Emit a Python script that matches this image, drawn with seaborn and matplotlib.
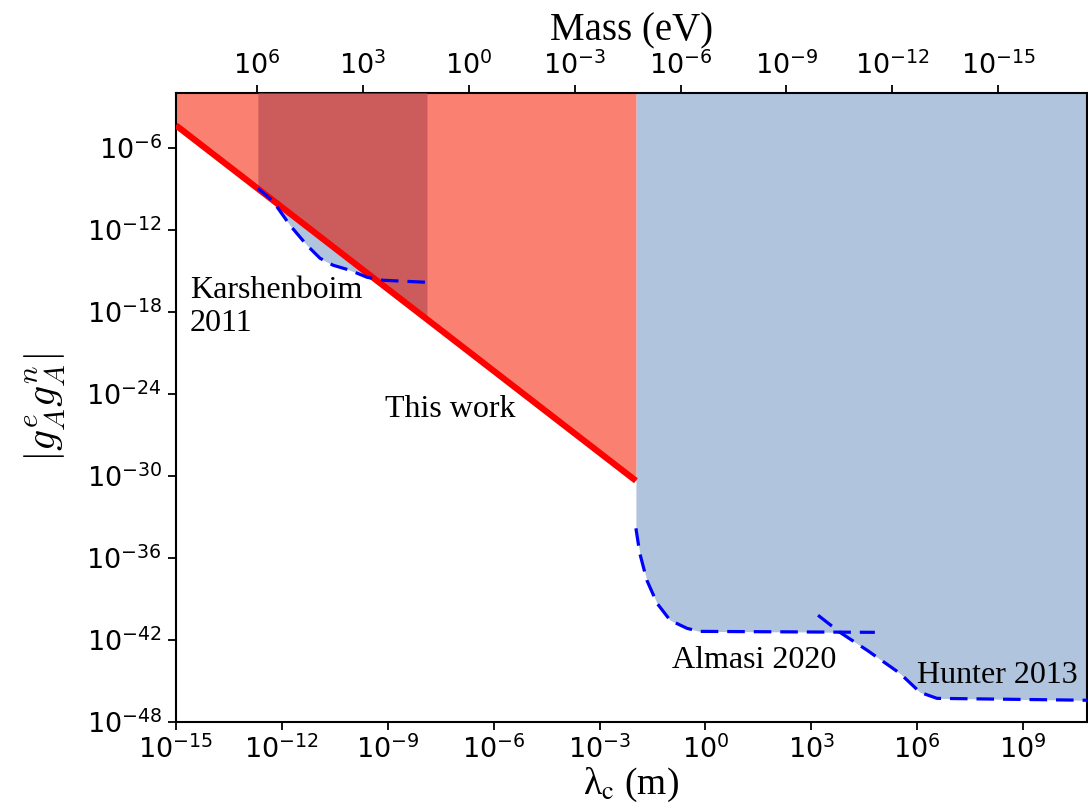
import numpy as np
import pandas as pd
import matplotlib
matplotlib.use("Agg")
import matplotlib.pyplot as plt
from matplotlib.ticker import FixedLocator, NullLocator, LogFormatterSciNotation
import seaborn as sns

# ---------------- data ----------------
# "This work" limit line (log10 lambda [m], log10 |g g|)
this_work_loglam = [-15.0, -1.97]
this_work_logg = [-4.35, -30.35]

# Karshenboim 2011 (dashed)
karsh_loglam = [-12.68, -12.25, -11.77, -11.29, -10.92, -10.55, -10.07, -9.59, -9.14, -7.89]
karsh_logg = [-8.95, -9.90, -11.66, -13.12, -14.07, -14.58, -14.95, -15.46, -15.68, -15.83]

# Almasi 2020 (dashed)
almasi_loglam = [-1.97, -1.86, -1.66, -1.37, -1.00, -0.52, -0.16, 4.80]
almasi_logg = [-33.83, -35.66, -37.63, -39.32, -40.56, -41.15, -41.37, -41.44]

# Hunter 2013 (dashed)
hunter_loglam = [3.19, 3.81, 4.58, 5.51, 6.08, 6.56, 10.83]
hunter_logg = [-40.19, -41.44, -42.75, -44.44, -45.83, -46.27, -46.41]

# axis ticks / limits
xtick_exps = [-15, -12, -9, -6, -3, 0, 3, 6, 9]
ytick_exps = [-48, -42, -36, -30, -24, -18, -12, -6]
mass_tick_exps = [6, 3, 0, -3, -6, -9, -12, -15]
xlim_exp = (-15.0, 10.81)
ylim_exp = (-48.0, -1.98)
hbar_c = 1.97e-7  # eV m

labels = {
    "karsh": "Karshenboim\n2011",
    "this": "This work",
    "almasi": "Almasi 2020",
    "hunter": "Hunter 2013",
}

# ---------------- build tables ----------------
tw = pd.DataFrame({"lam": 10.0 ** np.array(this_work_loglam), "g": 10.0 ** np.array(this_work_logg)})
ka = pd.DataFrame({"lam": 10.0 ** np.array(karsh_loglam), "g": 10.0 ** np.array(karsh_logg)})
al = pd.DataFrame({"lam": 10.0 ** np.array(almasi_loglam), "g": 10.0 ** np.array(almasi_logg)})
hu = pd.DataFrame({"lam": 10.0 ** np.array(hunter_loglam), "g": 10.0 ** np.array(hunter_logg)})

# ---------------- style ----------------
sns.set_style("ticks")
plt.rcParams["font.family"] = ["DejaVu Sans"]
plt.rcParams["text.color"] = "black"
plt.rcParams["axes.labelcolor"] = "black"
plt.rcParams["xtick.color"] = "black"
plt.rcParams["ytick.color"] = "black"
serif = ["Liberation Serif", "DejaVu Serif"]

fig = plt.figure(figsize=(10.88, 8.08), dpi=100)
ax = fig.add_axes([176 / 1088, 1 - 722 / 808, 911 / 1088, 629 / 808])
ax.set_xscale("log")
ax.set_yscale("log")
xmin, xmax = 10 ** xlim_exp[0], 10 ** xlim_exp[1]
ymin, ymax = 10 ** ylim_exp[0], 10 ** ylim_exp[1]

salmon = "#FA8072"
dark = "#CB5C5B"
steel = "#B0C4DE"

# Karshenboim excluded region (behind the red region)
ax.fill_between(ka["lam"], ka["g"], ymax, color=steel, lw=0, zorder=1)

# This work excluded region
ax.fill_between(tw["lam"], tw["g"], ymax, color=salmon, lw=0, zorder=2)

# overlap region (this work & Karshenboim x-range)
klo, khi = ka["lam"].iloc[0], ka["lam"].iloc[-1]
ll = np.log10(tw["lam"].values)
gg = np.log10(tw["g"].values)
ov_lam = np.array([klo, khi])
ov_g = 10 ** np.interp(np.log10(ov_lam), ll, gg)
ax.fill_between(ov_lam, ov_g, ymax, color=dark, lw=0, zorder=3)

# Almasi + Hunter excluded region: lower envelope
grid = np.union1d(np.array(almasi_loglam), np.array(hunter_loglam))
grid = grid[grid >= almasi_loglam[0]]
a_i = np.interp(grid, almasi_loglam, almasi_logg, right=np.inf)
h_i = np.interp(grid, hunter_loglam, hunter_logg, left=np.inf)
env = np.minimum(a_i, h_i)
ax.fill_between(10 ** grid, 10 ** env, ymax, color=steel, lw=0, zorder=1)

# lines
sns.lineplot(data=tw, x="lam", y="g", ax=ax, color="red", lw=4.5, zorder=5,
             solid_capstyle="butt")
for df in (ka, al, hu):
    sns.lineplot(data=df, x="lam", y="g", ax=ax, color="blue", lw=2.3,
                 linestyle=(0, (5.5, 2.8)), zorder=6)

ax.set_xlim(xmin, xmax)
ax.set_ylim(ymin, ymax)

ax.xaxis.set_major_locator(FixedLocator([10.0 ** e for e in xtick_exps]))
ax.yaxis.set_major_locator(FixedLocator([10.0 ** e for e in ytick_exps]))
ax.xaxis.set_minor_locator(NullLocator())
ax.yaxis.set_minor_locator(NullLocator())
ax.xaxis.set_major_formatter(LogFormatterSciNotation())
ax.yaxis.set_major_formatter(LogFormatterSciNotation())
ax.tick_params(axis="both", which="major", direction="out", length=6, width=1.3,
               labelsize=19.5, color="black", labelcolor="black", pad=4)
for sp in ax.spines.values():
    sp.set_linewidth(1.5)
    sp.set_color("black")
    sp.set_visible(True)

ax.set_xlabel(r"λ$_\mathrm{c}$ (m)", fontsize=27, family=serif, math_fontfamily="stix",
              labelpad=1, color="black")
ax.set_ylabel(r"$|g_A^e g_A^n|$", fontsize=30, math_fontfamily="cm", labelpad=13,
              color="black")

# top (mass) axis: mass = hbar*c / lambda
top = ax.twiny()
top.set_xscale("log")
top.set_xlim(hbar_c / xmin, hbar_c / xmax)
top.xaxis.set_major_locator(FixedLocator([10.0 ** e for e in mass_tick_exps]))
top.xaxis.set_minor_locator(NullLocator())
top.xaxis.set_major_formatter(LogFormatterSciNotation())
top.tick_params(axis="x", which="major", direction="out", length=6, width=1.3,
                labelsize=19.5, pad=3, color="black", labelcolor="black")
for sp in top.spines.values():
    sp.set_visible(False)
top.set_xlabel("Mass (eV)", fontsize=28, family=serif, labelpad=8, color="black")

# annotations
ax.text(14 / 911, 1 - (276 - 93) / 629, labels["karsh"], transform=ax.transAxes,
        ha="left", va="top", fontsize=23, family=serif, linespacing=1.17, zorder=7,
        color="black")
ax.text((385 - 176) / 911, 1 - (417 - 93) / 629, labels["this"], transform=ax.transAxes,
        ha="left", va="baseline", fontsize=23, family=serif, zorder=7, color="black")
ax.text((672 - 176) / 911, 1 - (668 - 93) / 629, labels["almasi"], transform=ax.transAxes,
        ha="left", va="baseline", fontsize=23, family=serif, zorder=7, color="black")
ax.text((917 - 176) / 911, 1 - (683 - 93) / 629, labels["hunter"], transform=ax.transAxes,
        ha="left", va="baseline", fontsize=23, family=serif, zorder=7, color="black")

fig.savefig("out.png", dpi=100)
